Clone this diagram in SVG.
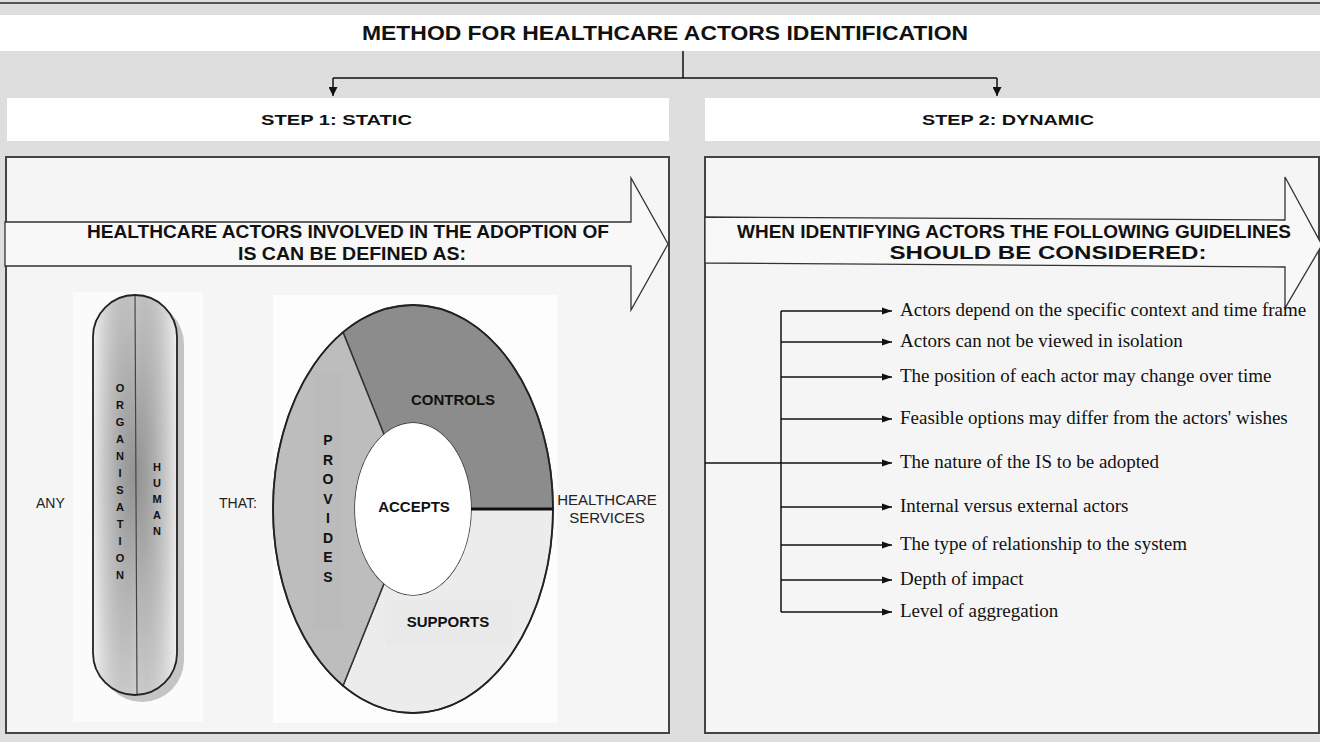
<svg xmlns="http://www.w3.org/2000/svg" width="1320" height="742" viewBox="0 0 1320 742">
<style>
.hdr{font-family:"Liberation Sans",Arial,sans-serif;font-weight:bold;fill:#111}
.reg{font-family:"Liberation Sans",Arial,sans-serif;fill:#222}
.ser{font-family:"Liberation Serif","Times New Roman",serif;font-size:19px;fill:#111}
.panel{fill:#f5f5f5;stroke:#444;stroke-width:2}
.big{fill:#f8f8f8;stroke:#333;stroke-width:1.3}
.ln{fill:none;stroke:#111;stroke-width:1.5}
.seg{stroke:#333;stroke-width:1.5}
</style>
<defs>
<marker id="ah" viewBox="0 0 10 10" refX="10" refY="5" markerWidth="10" markerHeight="10" markerUnits="userSpaceOnUse" orient="auto">
<path d="M0,1.5 L10,5 L0,8.5 Z" fill="#111"/>
</marker>
<marker id="ahd" viewBox="0 0 10 10" refX="10" refY="5" markerWidth="12" markerHeight="9" markerUnits="userSpaceOnUse" orient="auto">
<path d="M0,0 L10,5 L0,10 Z" fill="#111"/>
</marker>
<radialGradient id="pillg" cx="0.5" cy="0.45" r="0.6" fx="0.5" fy="0.45">
<stop offset="0" stop-color="#a0a0a0"/>
<stop offset="0.5" stop-color="#c8c8c8"/>
<stop offset="1" stop-color="#e6e6e6"/>
</radialGradient>
<linearGradient id="pillh" x1="0" y1="0" x2="1" y2="0">
<stop offset="0" stop-color="#ffffff" stop-opacity="0.4"/>
<stop offset="0.5" stop-color="#000000" stop-opacity="0.08"/>
<stop offset="1" stop-color="#ffffff" stop-opacity="0.4"/>
</linearGradient>
</defs>

<rect x="0" y="0" width="1320" height="742" fill="#dedede"/>
<line x1="0" y1="3" x2="1320" y2="3" stroke="#555" stroke-width="2"/>

<g id="title">
<rect x="0" y="15" width="1320" height="36" fill="#ffffff"/>
<text class="hdr" x="665" y="40" font-size="21" text-anchor="middle" textLength="606" lengthAdjust="spacingAndGlyphs">METHOD FOR HEALTHCARE ACTORS IDENTIFICATION</text>
</g>

<g id="step1">
<rect x="7" y="98" width="662" height="43" fill="#ffffff"/>
<text class="hdr" x="336.5" y="125" font-size="15.5" text-anchor="middle" textLength="151" lengthAdjust="spacingAndGlyphs">STEP 1:  STATIC</text>
</g>
<g id="step2">
<rect x="705" y="98" width="615" height="43" fill="#ffffff"/>
<text class="hdr" x="1008" y="125" font-size="15.5" text-anchor="middle" textLength="172" lengthAdjust="spacingAndGlyphs">STEP 2:  DYNAMIC</text>
</g>

<g id="connectors">
<path class="ln" d="M683,51 V78 M333,78 H997"/>
<line class="ln" x1="333" y1="78" x2="333" y2="96" marker-end="url(#ahd)"/>
<line class="ln" x1="997" y1="78" x2="997" y2="96" marker-end="url(#ahd)"/>
</g>

<g id="panel1">
<rect class="panel" x="6" y="157" width="663" height="576"/>
<path class="big" d="M5,222 H631 V178 L668,244 L631,310 V266 H5 Z"/>
<text class="hdr" x="348" y="238" font-size="17.5" text-anchor="middle" textLength="522" lengthAdjust="spacingAndGlyphs">HEALTHCARE ACTORS INVOLVED IN THE ADOPTION OF</text>
<text class="hdr" x="352" y="260" font-size="17.5" text-anchor="middle" textLength="228" lengthAdjust="spacingAndGlyphs">IS CAN BE DEFINED AS:</text>
</g>

<g id="any">
<text class="reg" x="36" y="508" font-size="14">ANY</text>
</g>

<g id="pill">
<rect x="73" y="292" width="130" height="430" fill="#fbfbfb"/>
<rect x="100" y="302" width="84" height="400" rx="42" ry="42" fill="#c4c4c4"/>
<rect x="93" y="295" width="84" height="400" rx="42" ry="42" fill="url(#pillg)"/>
<rect x="93" y="295" width="84" height="400" rx="42" ry="42" fill="url(#pillh)" stroke="#222" stroke-width="1.8"/>
<line x1="135" y1="296" x2="137" y2="694" stroke="#444" stroke-width="1.2"/>
<g class="hdr" font-size="11" text-anchor="middle">
<text x="120" y="392">O</text><text x="120" y="409">R</text><text x="120" y="426">G</text><text x="120" y="443">A</text><text x="120" y="460">N</text><text x="120" y="477">I</text><text x="120" y="494">S</text><text x="120" y="511">A</text><text x="120" y="528">T</text><text x="120" y="545">I</text><text x="120" y="562">O</text><text x="120" y="579">N</text>
<text x="157" y="471">H</text><text x="157" y="487">U</text><text x="157" y="503">M</text><text x="157" y="519">A</text><text x="157" y="535">N</text>
</g>
</g>

<g id="that">
<text class="reg" x="219" y="508" font-size="14">THAT:</text>
</g>

<g id="ring">
<rect x="273" y="295" width="284" height="428" fill="#fdfdfd"/>
<path class="seg" fill="#8c8c8c" d="M343,332.3 A140,204 0 0 1 553,509 L471,509 A58,86 0 0 0 384,434.5 Z"/>
<path class="seg" fill="#ececec" d="M553,509 A140,204 0 0 1 343,685.7 L384,583.5 A58,86 0 0 0 471,509 Z"/>
<path class="seg" fill="#bdbdbd" d="M343,685.7 A140,204 0 0 1 343,332.3 L384,434.5 A58,86 0 0 0 384,583.5 Z"/>
<rect x="313" y="373" width="30" height="257" fill="#b6b6b6" opacity="0.35"/>
<rect x="385" y="600" width="127" height="47" fill="#e6e6e6" opacity="0.5"/>
<ellipse cx="413" cy="509" rx="58" ry="86" fill="#ffffff"/>
<line x1="471" y1="509" x2="554" y2="509" stroke="#111" stroke-width="3"/>
<ellipse cx="413" cy="509" rx="140" ry="204" fill="none" stroke="#222" stroke-width="1.8"/>
<text class="hdr" x="453" y="405" font-size="15" text-anchor="middle">CONTROLS</text>
<text class="hdr" x="414" y="512" font-size="15" text-anchor="middle">ACCEPTS</text>
<text class="hdr" x="448" y="627" font-size="15" text-anchor="middle">SUPPORTS</text>
<g class="hdr" font-size="14" text-anchor="middle">
<text x="328" y="445">P</text><text x="328" y="464.5">R</text><text x="328" y="484">O</text><text x="328" y="503.5">V</text><text x="328" y="523">I</text><text x="328" y="542.5">D</text><text x="328" y="562">E</text><text x="328" y="581.5">S</text>
</g>
</g>

<g id="services">
<text class="reg" x="607" y="505" font-size="15" text-anchor="middle">HEALTHCARE</text>
<text class="reg" x="607" y="523" font-size="15" text-anchor="middle">SERVICES</text>
</g>

<g id="panel2">
<rect class="panel" x="705" y="157" width="614" height="576"/>
<path class="big" d="M705,217 L1285,220 V177 L1322,245 L1285,308 V267 L705,263 Z"/>
<text class="hdr" x="1014" y="238" font-size="17.5" text-anchor="middle" textLength="554" lengthAdjust="spacingAndGlyphs">WHEN IDENTIFYING ACTORS THE FOLLOWING GUIDELINES</text>
<text class="hdr" x="1048" y="259" font-size="17.5" text-anchor="middle" textLength="317" lengthAdjust="spacingAndGlyphs">SHOULD BE CONSIDERED:</text>
</g>

<g id="guideline-connectors" class="ln">
<line x1="705" y1="463" x2="781" y2="463"/>
<line x1="781" y1="311" x2="781" y2="612"/>
<line x1="781" y1="311" x2="892" y2="311" marker-end="url(#ah)"/>
<line x1="781" y1="342" x2="892" y2="342" marker-end="url(#ah)"/>
<line x1="781" y1="377" x2="892" y2="377" marker-end="url(#ah)"/>
<line x1="781" y1="419" x2="892" y2="419" marker-end="url(#ah)"/>
<line x1="781" y1="463" x2="892" y2="463" marker-end="url(#ah)"/>
<line x1="781" y1="507" x2="892" y2="507" marker-end="url(#ah)"/>
<line x1="781" y1="545" x2="892" y2="545" marker-end="url(#ah)"/>
<line x1="781" y1="580" x2="892" y2="580" marker-end="url(#ah)"/>
<line x1="781" y1="612" x2="892" y2="612" marker-end="url(#ah)"/>
</g>

<g id="g1"><text class="ser" x="900" y="316">Actors depend on the specific context and time frame</text></g>
<g id="g2"><text class="ser" x="900" y="347">Actors can not be viewed in isolation</text></g>
<g id="g3"><text class="ser" x="900" y="382">The position of each actor may change over time</text></g>
<g id="g4"><text class="ser" x="900" y="424">Feasible options may differ from the actors' wishes</text></g>
<g id="g5"><text class="ser" x="900" y="468">The nature of the IS to be adopted</text></g>
<g id="g6"><text class="ser" x="900" y="512">Internal versus external actors</text></g>
<g id="g7"><text class="ser" x="900" y="550">The type of relationship to the system</text></g>
<g id="g8"><text class="ser" x="900" y="585">Depth of impact</text></g>
<g id="g9"><text class="ser" x="900" y="617">Level of aggregation</text></g>
</svg>
